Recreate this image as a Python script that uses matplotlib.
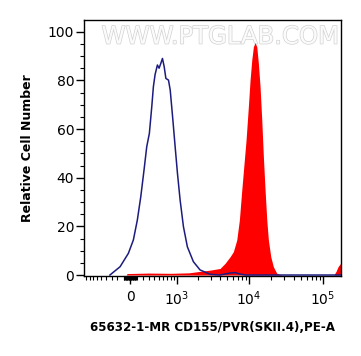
import numpy as np
import matplotlib
matplotlib.use("Agg")
import matplotlib.pyplot as plt
import matplotlib.patheffects as pe
from matplotlib.ticker import FixedLocator, FixedFormatter

# isotype control (blue outline)
ctrl_x = [-330, -156, -26, 51, 113, 168, 222, 268, 315, 360, 391, 425, 473, 510,
          549, 587, 629, 672, 742, 791, 871, 944, 1023, 1121, 1253, 1428, 1736,
          2152, 2953, 4000, 5500, 6500, 7500, 9000, 12000, 175000]
ctrl_y = [0, 3.4, 8.9, 14.4, 22.6, 32.2, 43.2, 52.7, 58.2, 69.2, 77.4, 82.4, 86.3,
          85.0, 87.0, 89.0, 85.6, 80.8, 80.1, 76.0, 63.7, 52.7, 41.8, 30.8, 19.9,
          11.6, 5.5, 2.1, 0.3, 0, 0.8, 1.0, 0.4, 0, 0, 0]

# antibody stained (red filled)
stain_x = [-60, -46, 300, 800, 1500, 2152, 2953, 4049, 4735, 5537, 6135, 6822,
           7400, 7978, 8566, 9119, 9796, 10330, 10893, 11451, 12073, 12730, 13378,
           14104, 14874, 15635, 16485, 17384, 18268, 19686, 21341, 23722, 27700,
           140000, 150000, 160000, 175000]
stain_y = [0, 0.6, 0.8, 0.7, 0.9, 1.5, 2.0, 2.7, 4.8, 7.5, 9.6, 14.4, 22.6, 34.9,
           45.9, 55.5, 69.2, 80.1, 88.4, 93.8, 95.5, 93.8, 87.0, 77.4, 63.7, 48.6,
           34.9, 22.6, 14.4, 7.5, 3.4, 0.7, 0, 0, 1.5, 3.5, 5.0]

x_major = [0, 1e3, 1e4, 1e5]
x_major_labels = ["0", r"$10^3$", r"$10^4$", r"$10^5$"]
y_major = [0, 20, 40, 60, 80, 100]

W = 494.0


def fwd(x):
    return np.arcsinh(np.asarray(x, dtype=float) / W) / np.log(10)


def inv(y):
    return W * np.sinh(np.asarray(y, dtype=float) * np.log(10))


fig = plt.figure(figsize=(3.61, 3.56), dpi=100)
ax = fig.add_axes([84 / 361, 80 / 356, 257 / 361, 256 / 356])

ax.set_xscale("function", functions=(fwd, inv))
ax.fill_between(stain_x, stain_y, 0, color="#ff0000", lw=0, zorder=2)
ax.plot(ctrl_x, ctrl_y, color="#1c1c7e", lw=1.1, zorder=3)

ax.set_xlim(-976, 175000)
ax.set_ylim(-0.4, 104.8)

minor = ([-v for v in range(100, 1000, 100)] + [-v for v in range(10, 100, 10)]
         + list(range(10, 100, 10)) + list(range(100, 1000, 100))
         + [k * 10 ** e for e in (3, 4) for k in range(2, 10)])
ax.xaxis.set_major_locator(FixedLocator(x_major))
ax.xaxis.set_major_formatter(FixedFormatter(x_major_labels))
ax.xaxis.set_minor_locator(FixedLocator(minor))
ax.set_yticks(y_major)
ax.yaxis.set_minor_locator(FixedLocator(np.arange(0, 105, 5)))

ax.tick_params(axis="both", which="major", length=6, width=1, labelsize=10,
               colors="black")
ax.tick_params(axis="both", which="minor", length=3, width=0.8)
ax.tick_params(axis="x", pad=4)
ax.tick_params(axis="y", pad=1)

for s in ax.spines.values():
    s.set_linewidth(1)

ax.set_ylabel("Relative Cell Number", fontsize=9, fontweight="bold", labelpad=10)
ax.set_xlabel("65632-1-MR CD155/PVR(SKII.4),PE-A", fontsize=8.6,
              fontweight="bold", labelpad=9)

# watermark
ax.text(0.53, 0.935, "WWW.PTGLAB.COM", transform=ax.transAxes, fontsize=17.5,
        color="#fbfbfb", ha="center", va="center", zorder=1, clip_on=False,
        path_effects=[pe.withStroke(linewidth=1.0, foreground="#d2d2d2")])

plt.savefig("out.png", dpi=100)
plt.close()
